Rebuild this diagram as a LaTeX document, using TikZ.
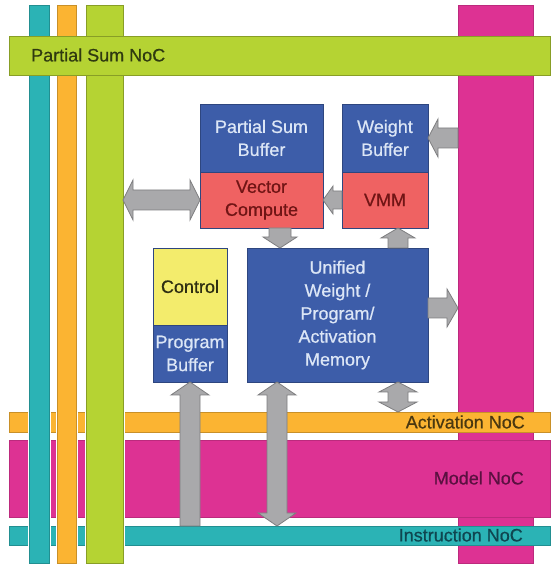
\documentclass[tikz,border=0pt]{standalone}
\usepackage{fontspec}
\setmainfont{Liberation Sans}
\newfontfamily\lblfont[FakeBold=0.6]{Liberation Sans}
\usetikzlibrary{calc}
\definecolor{cteal}{HTML}{2BB3B5}
\definecolor{corange}{HTML}{FBB432}
\definecolor{cgreen}{HTML}{B5D333}
\definecolor{cmag}{HTML}{DD3293}
\definecolor{cblue}{HTML}{3D5DA9}
\definecolor{cred}{HTML}{EF6262}
\definecolor{cyell}{HTML}{F3EC6C}
\definecolor{cgray}{HTML}{A9A9AB}
\definecolor{cgrayd}{HTML}{7E7E80}
\definecolor{tlight}{HTML}{DCE6F6}
\definecolor{tdred}{HTML}{701515}
\definecolor{tctrl}{HTML}{2E2E12}
\definecolor{tgreen}{HTML}{2F3A10}
\definecolor{torange}{HTML}{4A3810}
\definecolor{tmag}{HTML}{5A1040}
\definecolor{tteal}{HTML}{0F4650}

\newcommand\sarrow[5]{%
  \coordinate (tmpT) at #1;
  \coordinate (tmpH) at #2;
  \coordinate (tmpB) at ($(tmpH)!#5!(tmpT)$);
  \filldraw[blockarrow] ($(tmpT)!#3!90:(tmpH)$) -- ($(tmpB)!#3!90:(tmpH)$) -- ($(tmpB)!#4!90:(tmpH)$) -- (tmpH) -- ($(tmpB)!#4!-90:(tmpH)$) -- ($(tmpB)!#3!-90:(tmpH)$) -- ($(tmpT)!#3!-90:(tmpH)$) -- cycle;}
\newcommand\darrow[5]{%
  \coordinate (tmpA) at #1;
  \coordinate (tmpC) at #2;
  \coordinate (tmpB) at ($(tmpA)!#5!(tmpC)$);
  \coordinate (tmpD) at ($(tmpC)!#5!(tmpA)$);
  \filldraw[blockarrow] (tmpA) -- ($(tmpB)!#4!90:(tmpC)$) -- ($(tmpB)!#3!90:(tmpC)$) -- ($(tmpD)!#3!-90:(tmpA)$) -- ($(tmpD)!#4!-90:(tmpA)$) -- (tmpC) -- ($(tmpD)!#4!90:(tmpA)$) -- ($(tmpD)!#3!90:(tmpA)$) -- ($(tmpB)!#3!-90:(tmpC)$) -- ($(tmpB)!#4!-90:(tmpC)$) -- cycle;}

\tikzset{
  bar/.style={inner sep=0pt, outer sep=0pt, anchor=south west, line width=0.5pt},
  vbar/.style={bar, preaction={draw=white, line width=3pt}},
  box/.style={inner sep=0pt, outer sep=0pt, anchor=south west, draw=cblue!75!black, line width=0.5pt, align=center, font=\lblfont\fontsize{18}{23}\selectfont},
  blockarrow/.style={fill=cgray, draw=cgrayd, line width=0.8pt, line join=miter},
  noclabel/.style={inner sep=0pt, font=\lblfont\fontsize{18}{22}\selectfont}
}

\begin{document}
\begin{tikzpicture}[x=1pt,y=1pt]
\useasboundingbox (0,0) rectangle (550,565);
\fill[white] (0,0) rectangle (550,565);

% magenta vertical bar (bottom layer)
\node[bar, fill=cmag, draw=cmag!85!black, minimum width=75pt, minimum height=558pt] (magv) at (458,2) {};
% lower horizontal NoCs
\node[bar, fill=corange, draw=corange!80!black, minimum width=541pt, minimum height=20pt] (acth) at (9,133) {};
\node[bar, fill=cmag, draw=cmag!85!black, minimum width=541pt, minimum height=77pt] (modh) at (9,48) {};
\node[bar, fill=cteal, draw=cteal!80!black, minimum width=541pt, minimum height=19pt] (instrh) at (9,20) {};
% left vertical bars
\node[vbar, fill=cteal, draw=cteal!80!black, minimum width=20pt, minimum height=558pt] (tealv) at (29,2) {};
\node[vbar, fill=corange, draw=corange!80!black, minimum width=19pt, minimum height=558pt] (orangev) at (57,2) {};
\node[vbar, fill=cgreen, draw=cgreen!75!black, minimum width=37pt, minimum height=558pt] (greenv) at (86,2) {};
% top horizontal partial sum NoC
\node[bar, fill=cgreen, draw=cgreen!75!black, minimum width=541pt, minimum height=39pt] (psh) at (9,490) {};

% labels of NoCs
\node[noclabel, anchor=west, text=tgreen] (lps) at (31,510) {Partial Sum NoC};
\node[noclabel, anchor=east, text=torange] (lact) at (525,143) {Activation NoC};
\node[noclabel, anchor=east, text=tmag] (lmod) at (524,87) {Model NoC};
\node[noclabel, anchor=east, text=tteal] (linstr) at (523,30) {Instruction NoC};

% boxes
\node[box, fill=cblue, text=tlight, minimum width=123pt, minimum height=68pt] (psb) at (200,393) {Partial Sum\\Buffer};
\node[box, fill=cred, text=tdred, minimum width=123pt, minimum height=56pt] (vc) at (200,337) {Vector\\Compute};
\node[box, fill=cblue, text=tlight, minimum width=86pt, minimum height=68pt] (wb) at (342,393) {Weight\\Buffer};
\node[box, fill=cred, text=tdred, minimum width=86pt, minimum height=56pt] (vmm) at (342,337) {VMM};
\node[box, fill=cyell, text=tctrl, minimum width=74pt, minimum height=77pt] (ctrl) at (153,240) {Control};
\node[box, fill=cblue, text=tlight, minimum width=74pt, minimum height=57pt] (pb) at (153,183) {Program\\Buffer};
\node[box, fill=cblue, text=tlight, minimum width=181pt, minimum height=134pt] (mem) at (247,183) {Unified\\Weight /\\Program/\\Activation\\Memory};

% helper coordinates
\coordinate (c4) at ($(vc.south)+(18.5,0)$);
\coordinate (c5) at ($(mem.north east)+(-30,0)$);
\coordinate (c6) at ($(mem.east)+(0,7)$);
\coordinate (c8) at ($(mem.south west)+(30,0)$);
\coordinate (c9) at ($(mem.south east)+(-30,0)$);

% block arrows
\darrow{(greenv.east |- vc.west)}{(vc.west)}{10pt}{20pt}{10pt}
\sarrow{(magv.west |- wb.east)}{(wb.east)}{10pt}{19pt}{10pt}
\sarrow{(vmm.west)}{(vc.east)}{9pt}{14pt}{10pt}
\sarrow{(c4)}{(c4 |- mem.north)}{11pt}{17pt}{11pt}
\sarrow{(c5)}{(c5 |- vmm.south)}{10pt}{17pt}{10pt}
\sarrow{(c6)}{(magv.west |- c6)}{10pt}{19pt}{11pt}
\sarrow{(pb.south |- instrh.north)}{(pb.south)}{10pt}{19pt}{13pt}
\darrow{(c8)}{(c8 |- instrh.north)}{10pt}{19pt}{13pt}
\darrow{(c9)}{(c9 |- acth.north)}{10pt}{19pt}{10pt}
\end{tikzpicture}
\end{document}
